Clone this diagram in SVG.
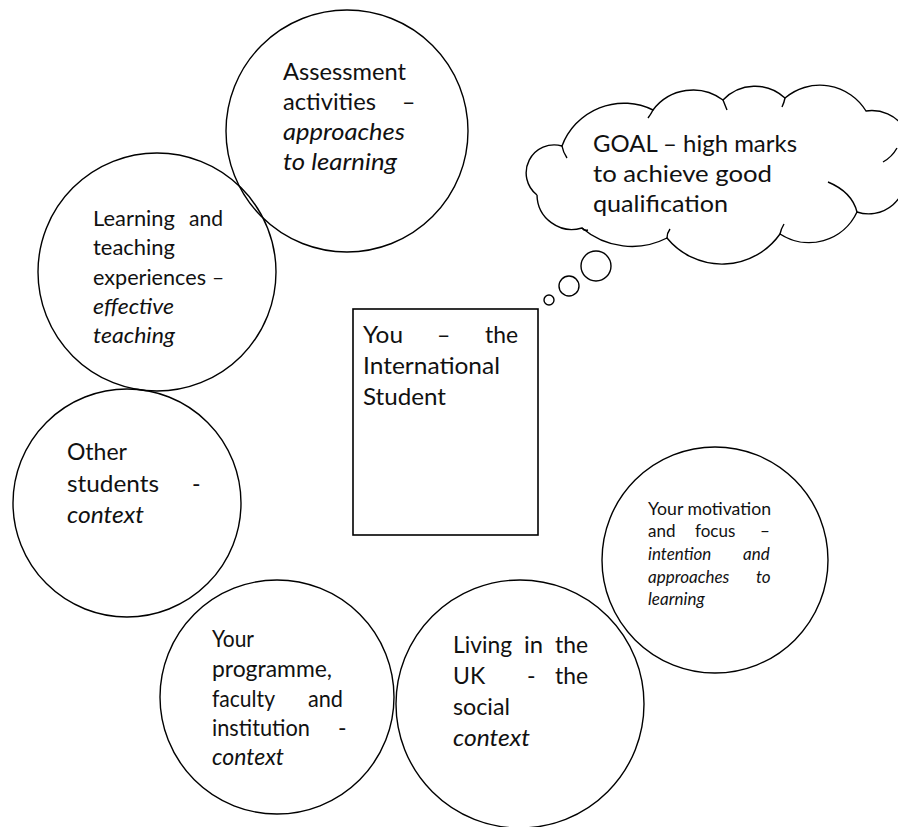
<svg xmlns="http://www.w3.org/2000/svg" width="898" height="827" viewBox="0 0 898 827">
<style>
  .shape { fill: none; stroke: #000; stroke-width: 1.4; }
  .box { fill: #fff; stroke: #000; stroke-width: 1.6; }
  text { font-family: Lato, "Open Sans", "Liberation Sans", sans-serif; fill: #111; }
  .big { font-size: 23px; }
  .mid { font-size: 21px; }
  .small { font-size: 17px; }
  .it { font-style: italic; }
</style>
<rect width="898" height="827" fill="#fff"/>

<g id="assessment">
  <circle class="shape" cx="347" cy="131" r="121"/>
  <text class="big" x="283" y="80" textLength="123" lengthAdjust="spacingAndGlyphs">Assessment</text>
  <text class="big" y="110"><tspan x="283" textLength="93" lengthAdjust="spacingAndGlyphs">activities</tspan><tspan x="402">–</tspan></text>
  <text class="big it" x="283" y="140" textLength="122" lengthAdjust="spacingAndGlyphs">approaches</text>
  <text class="big it" x="283" y="170" textLength="114" lengthAdjust="spacingAndGlyphs">to learning</text>
</g>

<g id="goal">
  <path class="shape" d="M537,195 A28,28 0 0 1 562,146 A66,66 0 0 1 653,110 A50,50 0 0 1 723,100 A44,44 0 0 1 785,98 A54,54 0 0 1 866,111 A39,39 0 0 1 905,170 A37,37 0 0 1 857,212 A53,53 0 0 1 780,234 A71,71 0 0 1 667,238 A77,77 0 0 1 582,228 A35,35 0 0 1 537,195"/>
  <path class="shape" d="M562,146 Q563,152 567,158 M653,110 Q651,114 648,118 M723,100 Q725,105 727,110 M785,98 Q784,103 782,107 M897,148 Q892,157 883,162 M828,182 Q852,192 857,212 M780,234 Q781,229 784,224 M667,238 Q667,233 670,229 M582,228 Q584,231 588,230"/>
  <circle class="shape" cx="596" cy="266" r="15"/>
  <circle class="shape" cx="569" cy="286" r="10"/>
  <circle class="shape" cx="549" cy="300" r="5"/>
  <text class="big" x="593" y="152" textLength="204" lengthAdjust="spacingAndGlyphs">GOAL – high marks</text>
  <text class="big" x="593" y="182" textLength="179" lengthAdjust="spacingAndGlyphs">to achieve  good</text>
  <text class="big" x="593" y="212" textLength="135" lengthAdjust="spacingAndGlyphs">qualification</text>
</g>

<g id="you">
  <rect class="box" x="353" y="309" width="185" height="226"/>
  <text class="big" y="343"><tspan x="363" textLength="40" lengthAdjust="spacingAndGlyphs">You</tspan><tspan x="437">–</tspan><tspan x="485" textLength="33" lengthAdjust="spacingAndGlyphs">the</tspan></text>
  <text class="big" x="363" y="374" textLength="137" lengthAdjust="spacingAndGlyphs">International</text>
  <text class="big" x="363" y="405" textLength="83" lengthAdjust="spacingAndGlyphs">Student</text>
</g>

<g id="learning">
  <circle class="shape" cx="157" cy="272" r="119"/>
  <text class="mid" y="226"><tspan x="93" textLength="82" lengthAdjust="spacingAndGlyphs">Learning</tspan><tspan x="189" textLength="34" lengthAdjust="spacingAndGlyphs">and</tspan></text>
  <text class="mid" x="93" y="255" textLength="82" lengthAdjust="spacingAndGlyphs">teaching</text>
  <text class="mid" y="285"><tspan x="93" textLength="113" lengthAdjust="spacingAndGlyphs">experiences</tspan><tspan x="212">–</tspan></text>
  <text class="mid it" x="93" y="314" textLength="81" lengthAdjust="spacingAndGlyphs">effective</text>
  <text class="mid it" x="93" y="343" textLength="82" lengthAdjust="spacingAndGlyphs">teaching</text>
</g>

<g id="other-students">
  <circle class="shape" cx="127" cy="503" r="114"/>
  <text class="big" x="67" y="460" textLength="60" lengthAdjust="spacingAndGlyphs">Other</text>
  <text class="big" y="492"><tspan x="67" textLength="92" lengthAdjust="spacingAndGlyphs">students</tspan><tspan x="192">-</tspan></text>
  <text class="big it" x="67" y="523" textLength="77" lengthAdjust="spacingAndGlyphs">context</text>
</g>

<g id="programme">
  <circle class="shape" cx="277" cy="697" r="117"/>
  <text class="big" x="212" y="647" textLength="42" lengthAdjust="spacingAndGlyphs">Your</text>
  <text class="big" x="212" y="677" textLength="120" lengthAdjust="spacingAndGlyphs">programme,</text>
  <text class="big" y="707"><tspan x="212" textLength="63" lengthAdjust="spacingAndGlyphs">faculty</tspan><tspan x="308" textLength="35" lengthAdjust="spacingAndGlyphs">and</tspan></text>
  <text class="big" y="736"><tspan x="212" textLength="98" lengthAdjust="spacingAndGlyphs">institution</tspan><tspan x="338">-</tspan></text>
  <text class="big it" x="212" y="765" textLength="72" lengthAdjust="spacingAndGlyphs">context</text>
</g>

<g id="living">
  <circle class="shape" cx="520" cy="704" r="124"/>
  <text class="big" y="653"><tspan x="453" textLength="59" lengthAdjust="spacingAndGlyphs">Living</tspan><tspan x="524" textLength="19" lengthAdjust="spacingAndGlyphs">in</tspan><tspan x="555" textLength="33" lengthAdjust="spacingAndGlyphs">the</tspan></text>
  <text class="big" y="684"><tspan x="453">UK</tspan><tspan x="527">-</tspan><tspan x="555" textLength="33" lengthAdjust="spacingAndGlyphs">the</tspan></text>
  <text class="big" x="453" y="715" textLength="57" lengthAdjust="spacingAndGlyphs">social</text>
  <text class="big it" x="453" y="746" textLength="77" lengthAdjust="spacingAndGlyphs">context</text>
</g>

<g id="motivation">
  <circle class="shape" cx="715" cy="560" r="113"/>
  <text class="small" x="648" y="515" textLength="123" lengthAdjust="spacingAndGlyphs">Your motivation</text>
  <text class="small" y="537"><tspan x="648">and</tspan><tspan x="695">focus</tspan><tspan x="760">–</tspan></text>
  <text class="small it" y="560"><tspan x="648">intention</tspan><tspan x="743">and</tspan></text>
  <text class="small it" y="583"><tspan x="648">approaches</tspan><tspan x="756">to</tspan></text>
  <text class="small it" x="648" y="605">learning</text>
</g>

<g id="connectors"></g>
</svg>
